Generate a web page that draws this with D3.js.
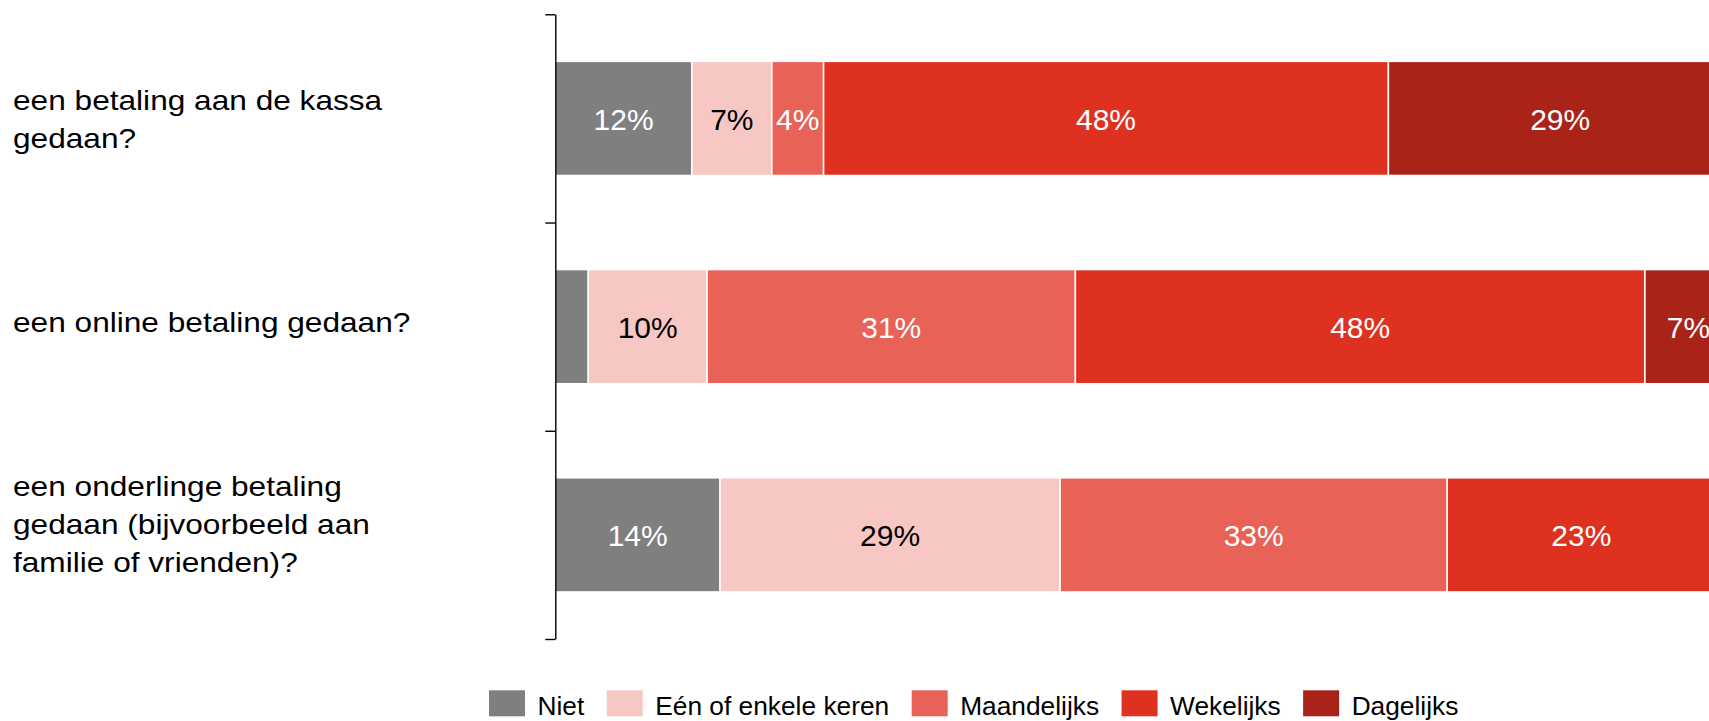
<!DOCTYPE html>
<html>
<head>
<meta charset="utf-8">
<script src="https://cdn.jsdelivr.net/npm/d3@7"></script>
<style>
  html, body { margin: 0; padding: 0; background: #fff; overflow: hidden; }
  svg { display: block; }
  text { font-family: "Liberation Sans", Arial, sans-serif; }
</style>
</head>
<body>
<svg id="chart" width="1709" height="721"></svg>
<script>
// ---- data ----
const categories = [
  "een betaling aan de kassa gedaan?",
  "een online betaling gedaan?",
  "een onderlinge betaling gedaan (bijvoorbeeld aan familie of vrienden)?"
];
const categoryLines = [
  ["een betaling aan de kassa", "gedaan?"],
  ["een online betaling gedaan?"],
  ["een onderlinge betaling", "gedaan (bijvoorbeeld aan", "familie of vrienden)?"]
];
const seriesNames = ["Niet", "Eén of enkele keren", "Maandelijks", "Wekelijks", "Dagelijks"];
const niet        = [11.6,  2.8, 14.0];
const eenOfEnkele = [ 6.8, 10.1, 28.9];
const maandelijks = [ 4.4, 31.3, 32.9];
const wekelijks   = [48.0, 48.4, 22.8];
const dagelijks   = [29.2,  7.4,  1.4];
const seriesColors = ["#7f7f7f", "#f7c7c3", "#e86257", "#df311f", "#a92319"];
const labelColors  = ["#ffffff", "#000000", "#ffffff", "#ffffff", "#ffffff"];

// ---- build table ----
const seriesValues = [niet, eenOfEnkele, maandelijks, wekelijks, dagelijks];
const table = categories.map((c, i) => {
  const row = { category: c };
  seriesNames.forEach((s, j) => row[s] = seriesValues[j][i]);
  return row;
});
const stacked = d3.stack().keys(seriesNames)(table);

const svg = d3.select("#chart");

// ---- scales ----
const x = d3.scaleLinear().domain([0, 100]).range([555.3, 1732]);
const yBand = d3.scaleBand().domain(categories).range([14.3, 639]).padding(0);
const yEdge = d3.scaleLinear().domain([0, categories.length]).range([14.3, 639]);
const barH = yBand.bandwidth() * 0.548;
const color = d3.scaleOrdinal().domain(seriesNames).range(seriesColors);
const txtColor = d3.scaleOrdinal().domain(seriesNames).range(labelColors);

// ---- bars ----
const g = svg.append("g");
const layers = g.selectAll("g.layer").data(stacked).enter().append("g")
  .attr("class", "layer")
  .attr("fill", d => color(d.key));
layers.selectAll("rect").data(d => d).enter().append("rect")
  .attr("x", d => x(d[0]))
  .attr("width", d => x(d[1]) - x(d[0]))
  .attr("y", d => yBand(d.data.category) + (yBand.bandwidth() - barH) / 2)
  .attr("height", barH)
  .attr("stroke", "#ffffff")
  .attr("stroke-width", 1.5);

// ---- value labels ----
stacked.forEach(layer => {
  g.selectAll(null).data(layer.filter(d => (d[1] - d[0]) >= 3.5)).enter().append("text")
    .attr("x", d => (x(d[0]) + x(d[1])) / 2)
    .attr("y", d => yBand(d.data.category) + yBand.bandwidth() / 2 + 11.5)
    .attr("text-anchor", "middle")
    .attr("font-size", 30)
    .attr("fill", txtColor(layer.key))
    .text(d => Math.round(d[1] - d[0]) + "%");
});

// ---- axis ----
const axis = d3.axisLeft(yEdge).tickValues(d3.range(categories.length + 1)).tickSize(10).tickSizeOuter(0).tickFormat("");
const axG = svg.append("g").attr("transform", "translate(555.3,0)").call(axis);
axG.selectAll("path, line").attr("stroke", "#000").attr("stroke-width", 1.4);

// ---- category labels ----
const lineH = 38;
const blockShift = { 1: 5, 2: 10.5, 3: -0.8 };
categories.forEach((c, i) => {
  const lines = categoryLines[i];
  const n = lines.length;
  const cy = yBand(c) + yBand.bandwidth() / 2;
  const first = cy - (n - 1) * lineH / 2 + blockShift[n];
  const t = svg.append("text")
    .attr("transform", "translate(13,0) scale(1.11,1)")
    .attr("font-size", 28.5).attr("fill", "#000");
  lines.forEach((ln, k) => {
    t.append("tspan").attr("x", 0).attr("y", first + k * lineH).text(ln);
  });
});

// ---- legend ----
const leg = svg.append("g");
let lx = 489;
seriesNames.forEach((s) => {
  leg.append("rect").attr("x", lx).attr("y", 690.3).attr("width", 36).attr("height", 26)
    .attr("fill", color(s));
  const t = leg.append("text").attr("x", lx + 48.5).attr("y", 715).attr("font-size", 26.3)
    .attr("fill", "#000").text(s);
  lx = lx + 48.5 + t.node().getComputedTextLength() + 22.5;
});
</script>
</body>
</html>
